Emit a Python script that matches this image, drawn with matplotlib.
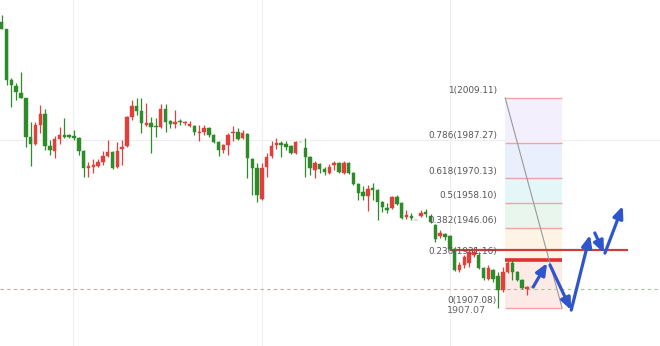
import matplotlib
matplotlib.use("Agg")
import numpy as np
import matplotlib.pyplot as plt
from matplotlib.patches import Rectangle

# OHLC (red = up, green = down)
opens = [2046.0, 2042.6, 2017.8, 2014.9, 2011.5, 2009.1, 1990.1, 1986.7, 1995.9, 2001.3,
         1985.7, 1983.3, 1989.1, 1991.1, 1991.1, 1990.6, 1989.6, 1983.3, 1975.1, 1975.5,
         1976.0, 1978.0, 1980.9, 1982.8, 1975.5, 1984.3, 1985.7, 1999.8, 2005.2, 2002.8,
         1995.9, 1996.9, 1995.5, 1995.0, 2003.7, 1997.9, 1996.4, 1997.9, 1996.9, 1995.5,
         1995.5, 1992.1, 1992.6, 1994.5, 1991.1, 1987.7, 1983.8, 1986.2, 1992.1, 1992.6,
         1989.6, 1991.6, 1979.4, 1975.1, 1960.0, 1975.5, 1980.9, 1986.2, 1987.2, 1986.7,
         1985.7, 1982.3, 1987.7, 1984.8, 1980.4, 1974.1, 1977.0, 1974.6, 1972.6, 1976.5,
         1977.5, 1972.6, 1977.5, 1972.6, 1967.3, 1963.4, 1961.4, 1965.3, 1964.4, 1958.5,
         1955.6, 1955.6, 1960.9, 1958.0, 1951.2, 1951.7, 1949.8, 1951.7, 1953.7, 1951.7,
         1947.4, 1942.0, 1943.0, 1942.0, 1935.7, 1925.5, 1927.9, 1928.9, 1932.8, 1932.8,
         1926.5, 1921.1, 1925.5, 1922.6, 1915.8, 1924.5, 1928.9, 1924.5, 1920.6, 1916.3,
         1917.2]
highs = [2049.4, 2042.6, 2018.8, 2016.4, 2021.7, 2009.1, 1997.4, 1997.4, 2005.7, 2003.7,
         1988.7, 1990.6, 1995.0, 1999.3, 1991.6, 1993.5, 1990.1, 1983.8, 1978.0, 1979.4,
         1979.4, 1983.3, 1988.7, 1983.3, 1987.7, 1988.7, 2000.3, 2008.1, 2009.1, 2009.1,
         2006.6, 1999.8, 1999.3, 2006.1, 2006.1, 1998.4, 2003.2, 1998.9, 1997.9, 1997.9,
         1995.9, 1995.9, 1995.9, 1995.0, 1991.6, 1988.2, 1986.7, 1992.1, 1995.5, 1994.5,
         1993.5, 1992.1, 1979.9, 1977.5, 1977.5, 1982.3, 1988.2, 1989.6, 1988.2, 1988.2,
         1986.2, 1988.2, 1987.9, 1989.6, 1980.9, 1978.5, 1977.5, 1975.5, 1977.0, 1978.5,
         1978.0, 1978.5, 1978.0, 1973.1, 1967.8, 1966.3, 1966.8, 1967.8, 1964.8, 1959.0,
         1958.0, 1961.4, 1961.9, 1958.5, 1954.6, 1953.2, 1950.0, 1954.6, 1955.1, 1952.7,
         1947.8, 1944.9, 1943.5, 1942.5, 1936.2, 1929.4, 1932.8, 1935.7, 1936.7, 1934.2,
         1926.9, 1927.9, 1926.0, 1924.5, 1926.9, 1930.3, 1930.3, 1925.0, 1921.1, 1917.7,
         1917.4]
lows = [2042.6, 2015.4, 2004.7, 2008.1, 2009.1, 1985.3, 1976.0, 1986.2, 1992.1, 1983.8,
        1981.4, 1979.9, 1986.7, 1989.6, 1989.6, 1988.7, 1981.4, 1970.7, 1970.7, 1972.6,
        1975.5, 1976.5, 1980.4, 1974.6, 1975.1, 1976.5, 1985.3, 1998.4, 2000.8, 1992.1,
        1995.5, 1982.3, 1990.1, 1994.5, 1992.6, 1994.5, 1994.5, 1995.9, 1995.9, 1995.0,
        1991.1, 1988.2, 1991.1, 1990.1, 1987.2, 1980.9, 1982.3, 1981.4, 1988.2, 1988.7,
        1989.1, 1970.2, 1961.9, 1958.5, 1959.5, 1970.7, 1979.9, 1984.3, 1980.4, 1983.8,
        1981.9, 1981.9, 1987.5, 1970.7, 1971.7, 1970.2, 1972.6, 1971.7, 1972.1, 1974.1,
        1972.6, 1972.1, 1972.1, 1966.8, 1959.5, 1959.5, 1954.2, 1959.5, 1949.8, 1953.7,
        1953.2, 1955.1, 1957.1, 1950.3, 1950.3, 1949.8, 1949.6, 1951.2, 1951.2, 1948.3,
        1939.1, 1941.0, 1940.1, 1935.2, 1925.0, 1924.5, 1926.5, 1926.9, 1931.8, 1926.0,
        1920.6, 1920.6, 1919.6, 1907.07, 1914.8, 1924.0, 1920.6, 1920.1, 1916.3, 1913.3,
        1917.0]
closes = [2042.6, 2017.8, 2015.4, 2012.0, 2009.1, 1990.1, 1986.7, 1995.9, 2001.3, 1985.7,
          1983.8, 1989.1, 1991.1, 1990.1, 1990.1, 1989.6, 1983.3, 1975.1, 1976.0, 1976.5,
          1978.0, 1980.9, 1982.8, 1975.1, 1983.3, 1985.3, 1999.8, 2005.2, 2002.8, 1996.9,
          1996.9, 1995.0, 1995.0, 2003.7, 1997.4, 1996.4, 1997.4, 1997.4, 1997.4, 1996.4,
          1992.6, 1992.6, 1994.5, 1991.1, 1987.7, 1983.8, 1986.2, 1991.1, 1992.6, 1989.1,
          1992.1, 1979.9, 1975.1, 1961.9, 1975.1, 1980.4, 1985.7, 1987.2, 1986.2, 1985.3,
          1982.3, 1987.7, 1987.5, 1980.4, 1975.1, 1977.5, 1974.6, 1973.1, 1975.5, 1977.5,
          1973.1, 1977.5, 1972.6, 1967.3, 1962.9, 1961.4, 1964.8, 1964.4, 1958.5, 1956.1,
          1954.6, 1960.9, 1957.6, 1950.8, 1952.2, 1950.8, 1949.6, 1953.2, 1952.7, 1948.8,
          1940.5, 1943.5, 1941.5, 1935.7, 1925.5, 1927.9, 1931.8, 1934.2, 1934.2, 1926.5,
          1921.6, 1926.5, 1921.1, 1915.8, 1924.5, 1928.9, 1924.5, 1920.6, 1916.7, 1917.2,
          1917.0]

# Fibonacci retracement
fib_ratios = [1, 0.786, 0.618, 0.5, 0.382, 0.236, 0]
fib_prices = [2009.11, 1987.27, 1970.13, 1958.10, 1946.06, 1931.16, 1907.08]
fib_labels = ["1(2009.11)", "0.786(1987.27)", "0.618(1970.13)", "0.5(1958.10)",
              "0.382(1946.06)", "0.236(1931.16)", "0(1907.08)"]
fib_fills = ["#f4effc", "#e9effd", "#e5f6f9", "#e8f6ee", "#fef4e6", "#fdeae6"]
fib_x = [104.5, 116.3]

low_price = 1907.07
last_price = 1916.25
resist_price = 1935.0
resist_x = [93.0, 130.0]

# projected path (blue arrows)
arrow_paths = [
    [(110.3, 1917.2), (113.2, 1928.9)],
    [(113.8, 1927.9), (118.2, 1906.0)],
    [(118.2, 1906.0), (122.1, 1942.5)],
    [(123.1, 1943.5), (125.0, 1933.7)],
    [(125.2, 1933.7), (128.9, 1956.6)],
]

UP = "#e0403c"
DOWN = "#2e8b2a"

fig = plt.figure(figsize=(6.6, 3.46), dpi=100)
ax = fig.add_axes([0, 0, 1, 1])
ax.set_xlim(-0.353, 136.63)
ax.set_ylim(1888.56, 2056.7)

# grid
for gx in [14.8, 54.0, 93.05]:
    ax.axvline(gx, color="#eeeeee", lw=0.8, zorder=0)
ax.axhline(1988.7, color="#eeeeee", lw=0.8, zorder=0)

# candles
x = np.arange(len(opens))
o = np.array(opens)
c = np.array(closes)
colors = [UP if cc >= oo else DOWN for oo, cc in zip(o, c)]
ax.vlines(x, lows, highs, colors=colors, lw=0.9, zorder=3)
body_h = np.maximum(np.abs(c - o), 0.35)
ax.bar(x, body_h, bottom=np.minimum(o, c), width=0.72, color=colors,
       edgecolor=colors, lw=0.3, zorder=4)

# fib bands
for i in range(len(fib_fills)):
    ax.add_patch(Rectangle((fib_x[0], fib_prices[i + 1]), fib_x[1] - fib_x[0],
                           fib_prices[i] - fib_prices[i + 1],
                           facecolor=fib_fills[i], edgecolor="none", zorder=1))
for r, p, lab in zip(fib_ratios, fib_prices, fib_labels):
    if r == 0.236:
        ax.hlines(p - 0.8, fib_x[0], fib_x[1], color="#e03030", lw=2.6, zorder=2)
    else:
        ax.hlines(p, fib_x[0], fib_x[1], color="#f0a3a3", lw=1.0, zorder=2)
    ax.text(102.8, p + 1.2, lab, ha="right", va="bottom", fontsize=6.4,
            color="#555555", zorder=5)
ax.plot(fib_x, [fib_prices[0], fib_prices[-1]], color="#999999", lw=0.8, zorder=2)

ax.text(100.5, low_price - 1.1, "1907.07", ha="right", va="center",
        fontsize=6.8, color="#666666", zorder=5)

# current price line
ax.hlines(last_price, -0.4, 110.5, color="#c2aa9c", lw=0.8,
          linestyles=(0, (3, 3)), zorder=2)
ax.hlines(last_price, 110.5, 137, color="#9ccb94", lw=0.8,
          linestyles=(0, (3, 3)), zorder=2)

# resistance line
ax.hlines(resist_price, resist_x[0], resist_x[1], color="#d43a3a", lw=1.6, zorder=3)

# arrows
for (x0, y0), (x1, y1) in arrow_paths:
    ax.annotate("", xy=(x1, y1), xytext=(x0, y0),
                arrowprops=dict(arrowstyle="-|>,head_length=0.7,head_width=0.3",
                                color="#2f55cc", lw=2.3, shrinkA=0, shrinkB=0),
                zorder=6)

ax.axis("off")
fig.savefig("out.png", dpi=100)
